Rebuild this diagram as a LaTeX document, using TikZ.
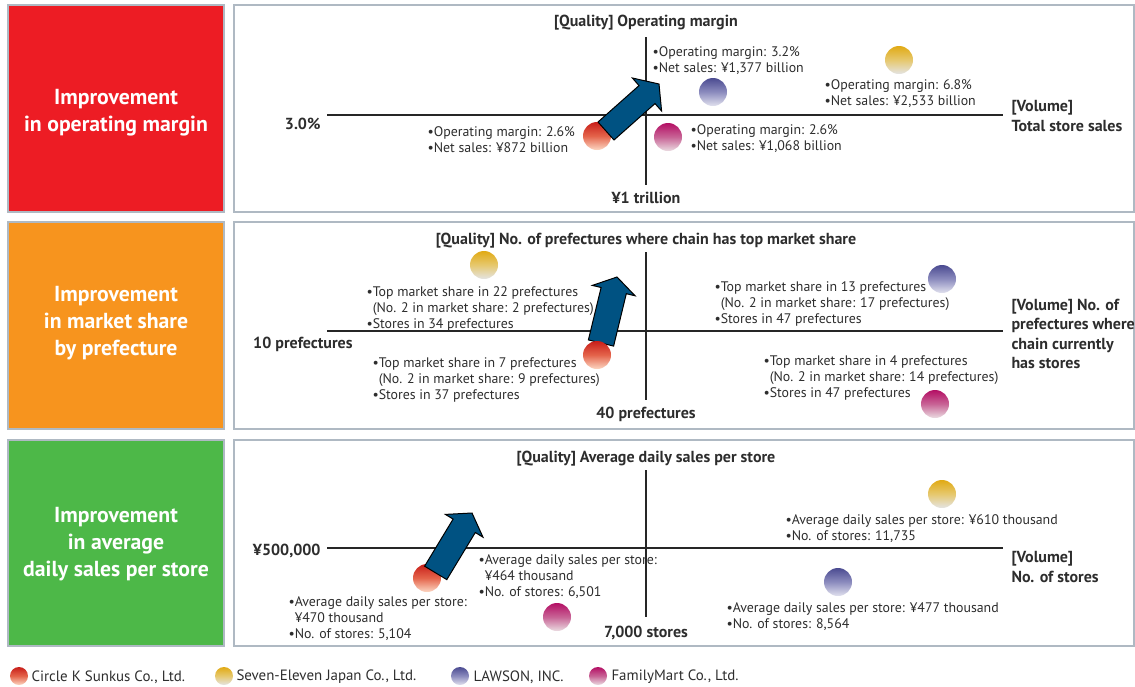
\documentclass[tikz,border=0pt]{standalone}
\usepackage{fontspec}
\setmainfont{PT Sans}

\definecolor{redbox}{RGB}{237,28,36}
\definecolor{orangebox}{RGB}{247,148,30}
\definecolor{greenbox}{RGB}{77,184,72}
\definecolor{framegray}{RGB}{175,185,195}
\definecolor{arrowblue}{RGB}{0,82,130}
\definecolor{txtgray}{RGB}{45,45,45}

\tikzset{every picture/.style={line width=0.75pt}}
\tikzset{
  note/.style={font=\fontsize{10.4}{12}\selectfont, text=txtgray, align=left, anchor=west, inner sep=0pt},
  keytext/.style={note, font=\fontsize{11.2}{13}\selectfont},
  axislabel/.style={font=\bfseries\fontsize{12}{14.6}\selectfont, text=txtgray, align=left, inner sep=0pt},
  heading/.style={font=\bfseries\fontsize{16.3}{20.25}\selectfont, text=white, align=center},
  panelbox/.style={draw=framegray, line width=1.1pt},
  axis/.style={draw=black!85, line width=1.1pt},
  bigarrow/.style={fill=arrowblue},
  dot/.style={circle, inner sep=0pt, minimum size=21pt},
  legenddot/.style={circle, inner sep=0pt, minimum size=13.5pt},
  ckdot/.style={top color={rgb,255:red,200;green,30;blue,25}, bottom color={rgb,255:red,252;green,215;blue,195}, middle color={rgb,255:red,228;green,100;blue,75}},
  sedot/.style={top color={rgb,255:red,225;green,170;blue,20}, bottom color={rgb,255:red,228;green,228;blue,228}, middle color={rgb,255:red,230;green,200;blue,110}},
  lwdot/.style={top color={rgb,255:red,75;green,75;blue,145}, bottom color={rgb,255:red,225;green,225;blue,238}, middle color={rgb,255:red,140;green,140;blue,190}},
  fmdot/.style={top color={rgb,255:red,180;green,15;blue,100}, bottom color={rgb,255:red,235;green,220;blue,225}, middle color={rgb,255:red,200;green,100;blue,150}},
}

\begin{document}
\begin{tikzpicture}[x=0.75pt,y=0.75pt,yscale=-1,xscale=1]
\useasboundingbox (0,0) rectangle (1135,686); %whole diagram, margins included

%Shape: Rectangle [panel 1]
\draw [panelbox, fill=redbox] (8,5) rectangle (224,212) ;
\draw [panelbox] (234,5) rectangle (1134,212) ;
%Shape: Rectangle [panel 2]
\draw [panelbox, fill=orangebox] (8,222) rectangle (224,429) ;
\draw [panelbox] (234,222) rectangle (1134,429) ;
%Shape: Rectangle [panel 3]
\draw [panelbox, fill=greenbox] (8,440) rectangle (224,646) ;
\draw [panelbox] (234,440) rectangle (1134,646) ;

% Text Node
\node [heading] (head1) at (116,113) {Improvement\\in operating margin};
% Text Node
\node [heading] (head2) at (116,323) {Improvement\\in market share\\by prefecture};
% Text Node
\node [heading] (head3) at (116,544) {Improvement\\in average\\daily sales per store};

%Straight Lines [axes 1]
\draw [axis] (327,115) -- (1003,115) ;
\draw [axis] (646,37) -- (646,185) ;
%Straight Lines [axes 2]
\draw [axis] (327,331) -- (1003,331) ;
\draw [axis] (646,252) -- (646,400) ;
%Straight Lines [axes 3]
\draw [axis] (327,548) -- (1003,548) ;
\draw [axis] (646,470) -- (646,617) ;

%% panel 1: operating margin
% Text Node
\node [axislabel] (qual1) at (646,23) {[Quality] Operating margin};
% Text Node
\node [axislabel, anchor=east] (low1) at (321,124) {3.0\%};
% Text Node
\node [axislabel] (mid1) at (646,198) {¥1 trillion};
% Text Node
\node [axislabel, anchor=west] (vol1) at (1011,116) {[Volume]\\Total store sales};

\node [dot, ckdot] (ck1) at (597,136) {};
%Shape: Arrow
\draw [bigarrow] (598,122) -- (639,85.6) -- (632.4,78) -- (659,84) -- (661.6,111) -- (655,103.6) -- (614,140) -- cycle ;
\node [dot, lwdot] (lw1) at (713,92) {};
\node [dot, sedot] (se1) at (899,60) {};
\node [dot, fmdot] (fm1) at (668,137) {};

% Text Node
\node [note] (lw1txt) at (652,61) {•Operating margin: 3.2\%\\•Net sales: ¥1,377 billion};
% Text Node
\node [note] (se1txt) at (824,94) {•Operating margin: 6.8\%\\•Net sales: ¥2,533 billion};
% Text Node
\node [note] (ck1txt) at (427,140) {•Operating margin: 2.6\%\\•Net sales: ¥872 billion};
% Text Node
\node [note] (fm1txt) at (690,139) {•Operating margin: 2.6\%\\•Net sales: ¥1,068 billion};

%% panel 2: market share by prefecture
% Text Node
\node [axislabel] (qual2) at (646,241) {[Quality] No. of prefectures where chain has top market share};
% Text Node
\node [axislabel, anchor=east] (low2) at (353,344) {10 prefectures};
% Text Node
\node [axislabel] (mid2) at (646,414) {40 prefectures};
% Text Node
\node [axislabel, anchor=west] (vol2) at (1011,334) {[Volume] No. of\\prefectures where\\chain currently\\has stores};

%Shape: Arrow
\draw [bigarrow] (588.4,339.9) -- (601.1,287.5) -- (592.3,285.4) -- (617,277) -- (635.1,295.8) -- (626.3,293.7) -- (613.6,346.1) -- cycle ;
\node [dot, ckdot] (ck2) at (597,355) {};
\node [dot, sedot] (se2) at (484,265) {};
\node [dot, lwdot] (lw2) at (942,279) {};
\node [dot, fmdot] (fm2) at (935,404) {};

% Text Node
\node [note] (se2txt) at (366,309) {•Top market share in 22 prefectures\\\hphantom{•}(No. 2 in market share: 2 prefectures)\\•Stores in 34 prefectures};
% Text Node
\node [note] (ck2txt) at (372,380) {•Top market share in 7 prefectures\\\hphantom{•}(No. 2 in market share: 9 prefectures)\\•Stores in 37 prefectures};
% Text Node
\node [note] (lw2txt) at (714,304) {•Top market share in 13 prefectures\\\hphantom{•}(No. 2 in market share: 17 prefectures)\\•Stores in 47 prefectures};
% Text Node
\node [note] (fm2txt) at (763,378) {•Top market share in 4 prefectures\\\hphantom{•}(No. 2 in market share: 14 prefectures)\\•Stores in 47 prefectures};

%% panel 3: average daily sales per store
% Text Node
\node [axislabel] (qual3) at (646,459) {[Quality] Average daily sales per store};
% Text Node
\node [axislabel, anchor=east] (low3) at (321,551) {¥500,000};
% Text Node
\node [axislabel] (mid3) at (646,633) {7,000 stores};
% Text Node
\node [axislabel, anchor=west] (vol3) at (1011,567) {[Volume]\\No. of stores};

\node [dot, ckdot] (ck3) at (427,578) {};
%Shape: Arrow
\draw [bigarrow] (424.6,566.2) -- (453.1,519.1) -- (445.4,514.4) -- (472,513) -- (483,537.2) -- (475.3,532.5) -- (446.8,579.6) -- cycle ;
\node [dot, sedot] (se3) at (942,494) {};
\node [dot, lwdot] (lw3) at (838,582) {};
\node [dot, fmdot] (fm3) at (557,617) {};

% Text Node
\node [note] (se3txt) at (785,529) {•Average daily sales per store: ¥610 thousand\\•No. of stores: 11,735};
% Text Node
\node [note] (lw3txt) at (726,617) {•Average daily sales per store: ¥477 thousand\\•No. of stores: 8,564};
% Text Node
\node [note] (ck3txt) at (288,619) {•Average daily sales per store:\\\hphantom{•}¥470 thousand\\•No. of stores: 5,104};
% Text Node
\node [note] (fm3txt) at (478,577) {•Average daily sales per store:\\\hphantom{•}¥464 thousand\\•No. of stores: 6,501};

%% legend
\node [legenddot, ckdot] (ckkey) at (19,676) {};
\node [keytext] (cklbl) at (31,677) {Circle K Sunkus Co., Ltd.};
\node [legenddot, sedot] (sekey) at (224,676) {};
\node [keytext] (selbl) at (236,677) {Seven-Eleven Japan Co., Ltd.};
\node [legenddot, lwdot] (lwkey) at (460,676) {};
\node [keytext] (lwlbl) at (473,677) {LAWSON, INC.};
\node [legenddot, fmdot] (fmkey) at (598,676) {};
\node [keytext] (fmlbl) at (611,677) {FamilyMart Co., Ltd.};

\end{tikzpicture}
\end{document}
